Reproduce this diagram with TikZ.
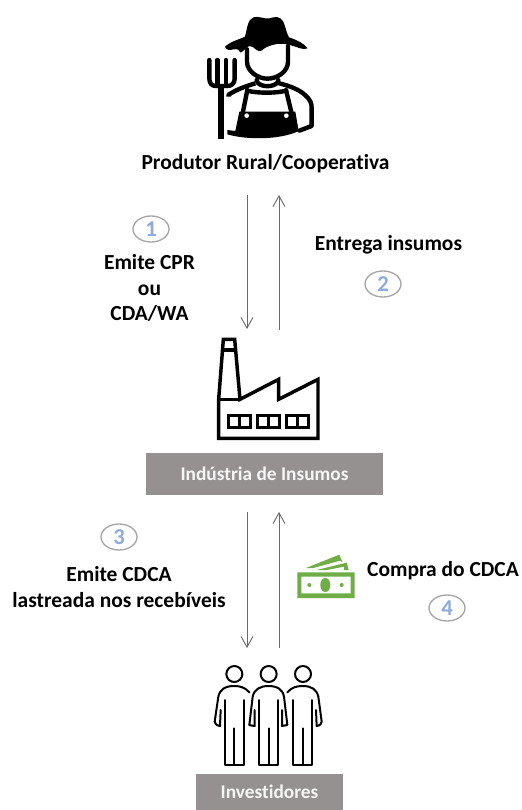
\documentclass[tikz,border=0pt]{standalone}
\usepackage{fontspec}
\setmainfont{Carlito}[Ligatures=NoCommon]
\usetikzlibrary{arrows.meta,shapes.geometric}
\definecolor{boxgray}{HTML}{959190}
\definecolor{arrowgray}{HTML}{6A6A6A}
\definecolor{numblue}{HTML}{8FAADC}
\definecolor{ringgray}{HTML}{A6A6A6}
\definecolor{moneygreen}{HTML}{70AD47}
\tikzset{
  lbl/.style={font=\fontsize{16.1pt}{19.4pt}\selectfont\bfseries, align=center, text=black, inner sep=0pt},
  boxlbl/.style={fill=boxgray, text=white!92!boxgray, font=\fontsize{14.5pt}{16pt}\selectfont\bfseries, inner sep=0pt, minimum height=31.5pt},
  numring/.style={draw=ringgray, line width=1pt, ellipse, text=numblue, font=\fontsize{17pt}{18pt}\selectfont\bfseries, minimum width=27pt, minimum height=19.5pt, inner sep=0pt},
  flow/.style={draw=arrowgray, line width=0.75pt, -{Straight Barb[length=8pt,width=9pt,line width=0.7pt]}},
  icon/.style={x=0.25pt, y=-0.25pt},
  ink/.style={line width=3.3pt, line join=round, line cap=round},
  plantink/.style={line width=2.6pt, line join=miter, line cap=butt},
  thinink/.style={line width=1.5pt, line join=round, line cap=round}
}
\begin{document}
\begin{tikzpicture}[x=0.75pt,y=-0.75pt]
\useasboundingbox (0,0) rectangle (521,810);
\fill[white] (0,0) rectangle (521,810);

% farmer
\begin{scope}[shift={(190,0)},icon]
  \fill[black,line join=round] (105,140) .. controls (125,122) and (150,118) .. (165,110)
    .. controls (172,85) and (172,60) .. (190,52)
    .. controls (205,47) and (225,58) .. (238,55)
    .. controls (255,50) and (270,47) .. (280,65)
    .. controls (288,85) and (290,100) .. (297,112)
    .. controls (320,120) and (340,128) .. (353,145)
    .. controls (340,152) and (320,140) .. (300,135)
    .. controls (285,131) and (270,130) .. (255,133)
    .. controls (240,137) and (230,140) .. (222,146)
    .. controls (215,155) and (205,155) .. (197,148)
    .. controls (190,140) and (178,135) .. (170,142)
    .. controls (165,148) and (158,155) .. (152,158)
    .. controls (150,150) and (142,146) .. (130,148)
    .. controls (118,152) and (108,150) .. (105,140) -- cycle;
  \draw[ink] (171,148) -- (171,185) .. controls (171,215) and (205,236) .. (232,236)
    .. controls (262,236) and (294,215) .. (294,185) -- (294,138);
  \draw[ink] (200,240) -- (203,248) .. controls (215,262) and (250,262) .. (262,248) -- (265,240);
  \draw[ink,line cap=butt] (116,290) -- (116,284) .. controls (140,268) and (170,258) .. (196,250);
  \draw[ink] (268,250) .. controls (300,258) and (330,270) .. (345,285)
    .. controls (362,300) and (365,310) .. (365,325) -- (365,378) -- (328,392);
  \draw[ink] (172,270) -- (158,340);
  \draw[ink] (288,270) -- (305,340);
  \draw[ink] (172,272) .. controls (200,280) and (260,280) .. (288,272);
  \fill[black] (148,335) -- (316,335) -- (326,393)
    .. controls (270,420) and (170,420) .. (112,403) -- (112,390) -- (136,393) -- cycle;
  \fill[white] (170,347) circle[radius=7];
  \fill[white] (289,347) circle[radius=7];
  % pitchfork
  \fill[black] (85,262) rectangle (102,417);
  \draw[ink] (58,180) -- (58,235) .. controls (58,250) and (65,258) .. (78,258) -- (112,258)
    .. controls (125,258) and (134,250) .. (134,235) -- (134,180);
  \draw[ink] (82,180) -- (82,258);
  \draw[ink] (108,180) -- (108,258);
\end{scope}

\node[lbl] (prod) at (265.5,163.5) {Produtor Rural/Cooperativa};

% factory
\begin{scope}[shift={(190,320)},icon]
  \draw[plantink] (100,58) -- (134,58) -- (150,238) -- (266,178) -- (266,238) -- (384,178) -- (384,355) -- (86,355) -- (86,238) -- cycle;
  \draw[plantink] (86,238) -- (150,238);
  \draw[plantink] (98,90) -- (136,90);
  \foreach \a in {116,203,290}{
    \draw[plantink] (\a,287) rectangle ++(65,36);
    \draw[plantink] (\a+32,287) -- ++(0,36);
  }
\end{scope}

\node[boxlbl, minimum width=177.75pt] (ind) at (264.5,474) {Indústria de Insumos};

% investors
\begin{scope}[shift={(190,650)},icon]
  \foreach \dx in {0,103,206}{
    \begin{scope}[xshift=\dx*0.25pt]
      \draw[thinink] (133,72) circle[radius=24];
    \end{scope}
  }
  % left
  \draw[thinink] (178,127) .. controls (165,112) and (150,108) .. (133,108)
    .. controls (105,108) and (90,118) .. (85,140) -- (74,215) .. controls (74,222) and (80,226) .. (90,228);
  \draw[thinink] (90,228) -- (92,180);
  \draw[thinink] (105,150) -- (105,345) -- (162,345) -- (162,150);
  \draw[thinink] (133,235) -- (133,345);
  % middle
  \draw[thinink] (178,225) .. controls (182,226) and (190,228) .. (194,228) -- (194,180);
  \draw[thinink] (178,225) -- (188,140) .. controls (193,118) and (210,108) .. (235,108)
    .. controls (262,108) and (278,118) .. (282,140) -- (292,225) -- (276,228) -- (276,180);
  \draw[thinink] (208,150) -- (208,345) -- (264,345) -- (264,150);
  \draw[thinink] (236,235) -- (236,345);
  % right
  \draw[thinink] (292,127) .. controls (305,112) and (320,108) .. (338,108)
    .. controls (365,108) and (380,118) .. (385,140) -- (395,215) .. controls (395,222) and (390,226) .. (380,228);
  \draw[thinink] (380,228) -- (378,180);
  \draw[thinink] (310,150) -- (310,345) -- (366,345) -- (366,150);
  \draw[thinink] (338,235) -- (338,345);
\end{scope}

\node[boxlbl, minimum width=110.25pt, minimum height=27pt] (inv) at (269.5,792) {Investidores};

% named ends of flows
\coordinate (a1s) at (247,195); \coordinate (a1e) at (247,329);
\coordinate (a2s) at (279,330); \coordinate (a2e) at (279,195);
\coordinate (a3s) at (247,512); \coordinate (a3e) at (247,648);
\coordinate (a4s) at (279,648); \coordinate (a4e) at (279,512);
\draw[flow] (a1s) -- (a1e);
\draw[flow] (a2s) -- (a2e);
\draw[flow] (a3s) -- (a3e);
\draw[flow] (a4s) -- (a4e);

\node[numring] (n1) at (151,229) {1};
\node[numring] (n2) at (383,284) {2};
\node[numring] (n3) at (119,537) {3};
\node[numring] (n4) at (447,608) {4};

\node[lbl] (t1) at (149.5,288) {Emite CPR\\ou\\CDA/WA};
\node[lbl] (t2) at (388.5,245) {Entrega insumos};
\node[lbl] (t3) at (119,587) {Emite CDCA\\lastreada nos recebíveis};
\node[lbl] (t4) at (443,571) {Compra do CDCA};

% money
\begin{scope}[shift={(280,540)},icon]
  \fill[moneygreen,even odd rule] (52,97) rectangle (224,174)
    (64,110) rectangle (212,160);
  \fill[moneygreen] (136,135) ellipse[x radius=15, y radius=21];
  \fill[moneygreen] (88,135) circle[radius=6];
  \fill[moneygreen] (185,135) circle[radius=6];
  \fill[moneygreen] (78,84) -- (178,44) -- (187,66) -- (180,62) -- (100,84) -- cycle;
  \fill[moneygreen] (110,90) -- (200,68) -- (206,90) -- (192,90) -- (192,80) -- (140,90) -- cycle;
\end{scope}
\end{tikzpicture}
\end{document}
